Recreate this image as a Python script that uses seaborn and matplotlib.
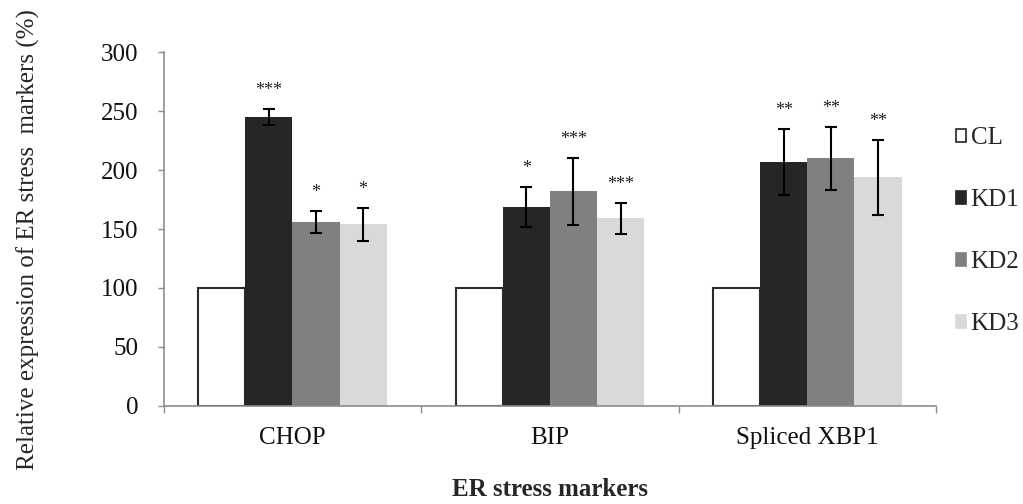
import numpy as np
import pandas as pd
import matplotlib
matplotlib.use("Agg")
import matplotlib.pyplot as plt
import seaborn as sns
from matplotlib.patches import Patch

categories = ["CHOP", "BIP", "Spliced XBP1"]
groups = ["CL", "KD1", "KD2", "KD3"]
values_CL = [100, 100, 100]
values_KD1 = [245, 169, 207]
values_KD2 = [156, 182, 210]
values_KD3 = [154, 159, 194]
err_CL = [0, 0, 0]
err_KD1 = [7, 17, 28]
err_KD2 = [9.5, 28.5, 27]
err_KD3 = [14, 13, 32]
stars_CL = ["", "", ""]
stars_KD1 = ["***", "*", "**"]
stars_KD2 = ["*", "***", "**"]
stars_KD3 = ["*", "***", "**"]
y_ticks = [0, 50, 100, 150, 200, 250, 300]

vals = {"CL": values_CL, "KD1": values_KD1, "KD2": values_KD2, "KD3": values_KD3}
errs = {"CL": err_CL, "KD1": err_KD1, "KD2": err_KD2, "KD3": err_KD3}
stars = {"CL": stars_CL, "KD1": stars_KD1, "KD2": stars_KD2, "KD3": stars_KD3}

rows = []
for g in groups:
    for i, c in enumerate(categories):
        rows.append({"marker": c, "group": g, "value": vals[g][i],
                     "err": errs[g][i], "star": stars[g][i]})
df = pd.DataFrame(rows)

sns.set_theme(style="white")
plt.rcParams["font.family"] = ["Liberation Serif", "DejaVu Serif"]

colors = {"CL": "#ffffff", "KD1": "#262626", "KD2": "#808080", "KD3": "#d9d9d9"}
fig = plt.figure(figsize=(10.23, 5.04), dpi=100)
ax = fig.add_axes([0.160, 0.195, 0.755, 0.701])

sns.barplot(data=df, x="marker", y="value", hue="group", order=categories,
            hue_order=groups, palette=colors, width=0.732, errorbar=None,
            saturation=1, ax=ax, legend=False, linewidth=0)

bar_containers = list(ax.containers)
# outline the CL bars, add error bars and stars
for gi, container in enumerate(bar_containers):
    g = groups[gi]
    for ci, patch in enumerate(container.patches):
        if g == "CL":
            patch.set_edgecolor("#2b2b2b")
            patch.set_linewidth(1.5)
        cx = patch.get_x() + patch.get_width() / 2
        h = patch.get_height()
        e = errs[g][ci]
        if e > 0:
            ax.errorbar(cx, h, yerr=e, fmt="none", ecolor="black",
                        elinewidth=1.5, capsize=4.5, capthick=1.5, zorder=5)
        s = stars[g][ci]
        if s:
            ax.annotate(s, xy=(cx, h + e), xytext=(0, 7), textcoords="offset points",
                        ha="center", va="bottom", fontsize=13, color="#222222")

ax.set_ylim(0, 300)
ax.set_yticks(y_ticks)
ax.set_xlim(-0.5, len(categories) - 0.5)
ax.set_xticks(np.arange(len(categories) + 1) - 0.5, minor=True)
ax.tick_params(axis="x", which="major", length=0, labelsize=18, pad=15)
ax.tick_params(axis="x", which="minor", length=5, width=1, color="#8c8c8c",
               direction="out", bottom=True)
ax.tick_params(axis="y", length=4, width=1, color="#8c8c8c", direction="out",
               labelsize=18, pad=14, left=True)
for lab in ax.get_yticklabels() + ax.get_xticklabels():
    lab.set_color("#111111")

sns.despine(ax=ax, top=True, right=True)
for sp in ["left", "bottom"]:
    ax.spines[sp].set_color("#8c8c8c")
    ax.spines[sp].set_linewidth(1.2)

ax.set_xlabel("ER stress markers", fontsize=18, fontweight="bold", labelpad=21)
ax.set_ylabel("Relative expression of ER stress  markers (%)", fontsize=18, labelpad=14)
ax.yaxis.set_label_coords(-0.16, 0.47)

handles = [Patch(facecolor=colors[g], edgecolor="#222222" if g == "CL" else colors[g],
                 linewidth=1.2) for g in groups]
fig.legend(handles, groups, loc="upper left", bbox_to_anchor=(0.922, 0.772),
           frameon=False, fontsize=18, handlelength=0.4, handleheight=0.4,
           handletextpad=0.2, labelspacing=1.6, borderpad=0)

fig.savefig("out.png", dpi=100)
